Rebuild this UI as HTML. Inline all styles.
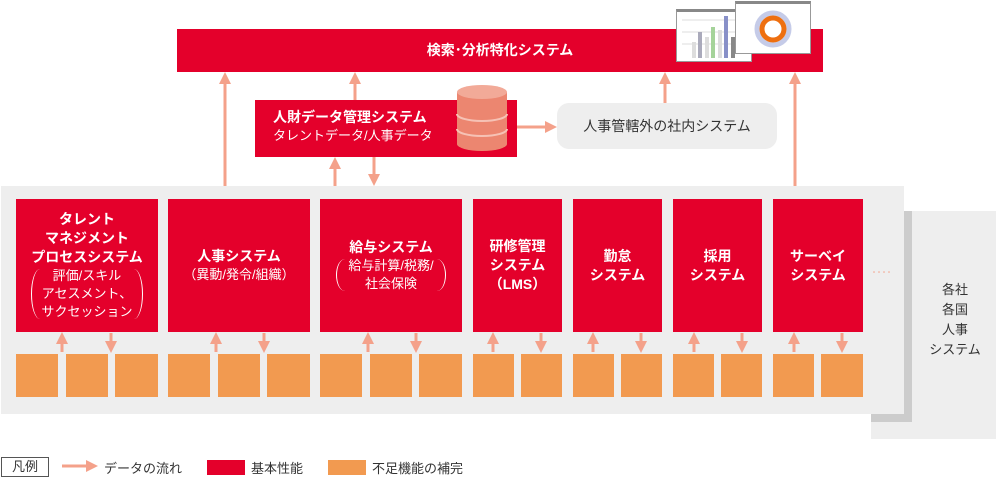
<!DOCTYPE html>
<html><head><meta charset="utf-8">
<style>
*{margin:0;padding:0;box-sizing:border-box}
body{width:996px;height:478px;background:#fff;position:relative;overflow:hidden;font-family:"Liberation Sans","Noto Sans CJK JP",sans-serif}
.a{position:absolute}
.red{background:#e4002b;color:#fff;font-weight:bold;text-align:center;display:flex;flex-direction:column;justify-content:center;align-items:center;font-size:14px;line-height:19px}
.sub{font-weight:normal;font-size:13px;line-height:18px}
.par{position:relative;padding:0 10px}
.par:before,.par:after{content:"";position:absolute;top:2px;bottom:2px;width:8px;border:0 solid #fff}
.par:before{left:0;border-left-width:1px;border-radius:100% 0 0 100%/50% 0 0 50%}
.par:after{right:0;border-right-width:1px;border-radius:0 100% 100% 0/0 50% 50% 0}
.or{position:absolute;background:#f29a50;top:354px;height:43px}
</style></head><body>
<div class="a" style="left:871px;top:211px;width:125px;height:228px;background:#eee"></div>
<div class="a" style="left:871px;top:211px;width:41px;height:211px;background:#ccc"></div>
<div class="a" style="left:914px;top:280px;width:82px;text-align:center;font-size:13px;line-height:20px;color:#333">各社<br>各国<br>人事<br>システム</div>
<div class="a" style="left:1px;top:186px;width:903px;height:228px;background:#eee"></div>
<div class="a red" style="left:177px;top:29px;width:646px;height:43px;font-size:14px">検索･分析特化システム</div>
<div class="a" style="left:676px;top:9px;width:76px;height:53px;background:#fff;border:1px solid #999;border-top:3px solid #888">
<svg width="74" height="49" style="position:absolute;left:0;top:0">
<g stroke="#ddd"><line x1="5" y1="8" x2="70" y2="8"/><line x1="5" y1="20" x2="70" y2="20"/><line x1="5" y1="32" x2="70" y2="32"/></g>
<rect x="15" y="30" width="4" height="16" fill="#ddd"/><rect x="21" y="20" width="4" height="26" fill="#aab"/><rect x="28" y="25" width="4" height="21" fill="#ddd"/><rect x="34" y="15" width="4" height="31" fill="#a5d39a"/><rect x="41" y="18" width="4" height="28" fill="#ddd"/><rect x="47" y="4" width="4" height="42" fill="#8890c8"/><rect x="54" y="25" width="4" height="21" fill="#888"/>
</svg></div>
<div class="a" style="left:735px;top:1px;width:76px;height:53px;background:#fff;border:1px solid #999;border-top:3px solid #888">
<svg width="74" height="49" style="position:absolute;left:0;top:0"><circle cx="37" cy="25" r="16" fill="none" stroke="#c5cbe8" stroke-width="5"/><circle cx="37" cy="25" r="11" fill="none" stroke="#ee6f10" stroke-width="5"/></svg></div>
<svg class="a" style="left:0;top:0" width="996" height="478">
<defs><marker id="m" markerWidth="4" markerHeight="4" refX="2" refY="2" orient="auto" markerUnits="strokeWidth"><path d="M0,0L4,2L0,4z" fill="#f4a18a"/></marker></defs>
<g stroke="#f4a18a" stroke-width="3" fill="none">
<line x1="225" y1="186" x2="225" y2="78" marker-end="url(#m)"/>
<line x1="355" y1="100" x2="355" y2="78" marker-end="url(#m)"/>
<line x1="665" y1="103" x2="665" y2="78" marker-end="url(#m)"/>
<line x1="795" y1="186" x2="795" y2="78" marker-end="url(#m)"/>
<line x1="335" y1="186" x2="335" y2="163" marker-end="url(#m)"/>
<line x1="374" y1="157" x2="374" y2="180" marker-end="url(#m)"/>
<line x1="517" y1="127" x2="551" y2="127" marker-end="url(#m)"/>
<line x1="62" y1="352" x2="62" y2="338" marker-end="url(#m)"/><line x1="111" y1="333" x2="111" y2="347" marker-end="url(#m)"/>
<line x1="216" y1="352" x2="216" y2="338" marker-end="url(#m)"/><line x1="264" y1="333" x2="264" y2="347" marker-end="url(#m)"/>
<line x1="368" y1="352" x2="368" y2="338" marker-end="url(#m)"/><line x1="416" y1="333" x2="416" y2="347" marker-end="url(#m)"/>
<line x1="493" y1="352" x2="493" y2="338" marker-end="url(#m)"/><line x1="541" y1="333" x2="541" y2="347" marker-end="url(#m)"/>
<line x1="593" y1="352" x2="593" y2="338" marker-end="url(#m)"/><line x1="641" y1="333" x2="641" y2="347" marker-end="url(#m)"/>
<line x1="694" y1="352" x2="694" y2="338" marker-end="url(#m)"/><line x1="742" y1="333" x2="742" y2="347" marker-end="url(#m)"/>
<line x1="794" y1="352" x2="794" y2="338" marker-end="url(#m)"/><line x1="842" y1="333" x2="842" y2="347" marker-end="url(#m)"/>
<line x1="62" y1="466" x2="92" y2="466" marker-end="url(#m)"/>
</g>
<g fill="#f4a18a"><circle cx="874" cy="272" r="0.8"/><circle cx="879" cy="272" r="0.8"/><circle cx="884" cy="272" r="0.8"/><circle cx="889" cy="272" r="0.8"/></g>
</svg>
<div class="a" style="left:255px;top:100px;width:262px;height:57px;background:#e4002b;color:#fff">
<div style="position:absolute;left:18px;top:8px;font-size:14px;font-weight:bold;line-height:19px">人財データ管理システム</div>
<div style="position:absolute;left:18px;top:27px;font-size:13px;line-height:18px">タレントデータ/人事データ</div>
</div>
<svg class="a" style="left:455px;top:84px" width="54" height="70">
<path d="M2,8 V60 A25,7 0 0 0 52,60 V8z" fill="#ec8670"/>
<ellipse cx="27" cy="8" rx="25" ry="7" fill="#f2aa98"/>
<path d="M2,30 A25,7 0 0 0 52,30 M2,45 A25,7 0 0 0 52,45" stroke="#f6c2b5" stroke-width="2" fill="none"/>
</svg>
<div class="a" style="left:557px;top:103px;width:220px;height:46px;background:#eee;border-radius:12px;font-size:14px;color:#333;display:flex;align-items:center;justify-content:center">人事管轄外の社内システム</div>
<div class="a red" style="left:16px;top:199px;width:142px;height:133px"><div>タレント<br>マネジメント<br>プロセスシステム</div><div class="sub par">評価/スキル<br>アセスメント、<br>サクセッション</div></div>
<div class="a red" style="left:168px;top:199px;width:142px;height:133px"><div>人事システム</div><div class="sub">（異動/発令/組織）</div></div>
<div class="a red" style="left:320px;top:199px;width:142px;height:133px"><div>給与システム</div><div class="sub par" style="padding:0 12px">給与計算/税務/<br>社会保険</div></div>
<div class="a red" style="left:473px;top:199px;width:89px;height:133px">研修管理<br>システム<br>（LMS）</div>
<div class="a red" style="left:573px;top:199px;width:89px;height:133px">勤怠<br>システム</div>
<div class="a red" style="left:673px;top:199px;width:89px;height:133px">採用<br>システム</div>
<div class="a red" style="left:773px;top:199px;width:90px;height:133px">サーベイ<br>システム</div>
<div class="or" style="left:16px;width:42px"></div><div class="or" style="left:66px;width:42px"></div><div class="or" style="left:115px;width:43px"></div>
<div class="or" style="left:168px;width:42px"></div><div class="or" style="left:218px;width:42px"></div><div class="or" style="left:267px;width:43px"></div>
<div class="or" style="left:320px;width:42px"></div><div class="or" style="left:370px;width:42px"></div><div class="or" style="left:419px;width:43px"></div>
<div class="or" style="left:473px;width:41px"></div><div class="or" style="left:521px;width:41px"></div>
<div class="or" style="left:573px;width:41px"></div><div class="or" style="left:621px;width:41px"></div>
<div class="or" style="left:673px;width:41px"></div><div class="or" style="left:721px;width:41px"></div>
<div class="or" style="left:773px;width:41px"></div><div class="or" style="left:821px;width:42px"></div>
<div class="a" style="left:1px;top:457px;width:48px;height:20px;border:1px solid #555;font-size:13px;line-height:18px;text-align:center;color:#333">凡例</div>
<div class="a" style="left:104px;top:458px;font-size:13px;color:#333">データの流れ</div>
<div class="a" style="left:207px;top:460px;width:38px;height:15px;background:#e4002b"></div>
<div class="a" style="left:251px;top:458px;font-size:13px;color:#333">基本性能</div>
<div class="a" style="left:328px;top:460px;width:38px;height:15px;background:#f29a50"></div>
<div class="a" style="left:372px;top:458px;font-size:13px;color:#333">不足機能の補完</div>
</body></html>
